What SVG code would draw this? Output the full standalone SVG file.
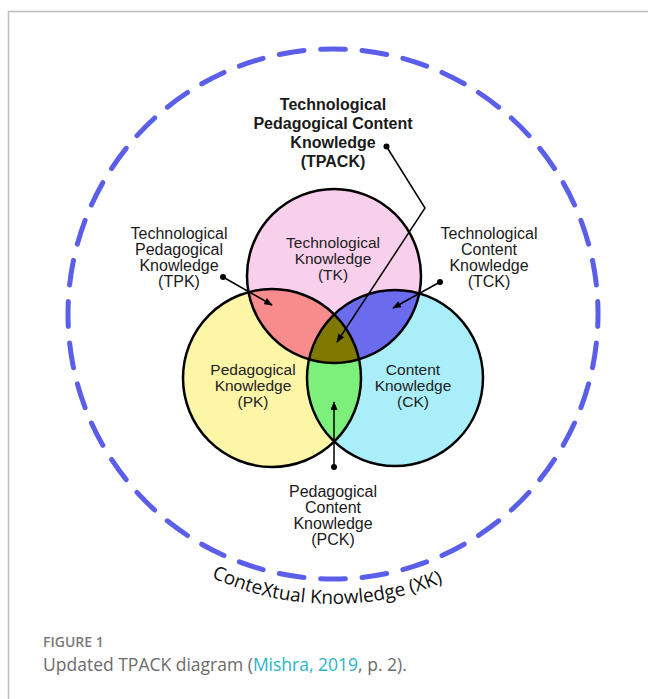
<svg xmlns="http://www.w3.org/2000/svg" width="648" height="699" viewBox="0 0 648 699">
  <style>
    .lbl { font-family: "Liberation Sans", Arial, sans-serif; font-size: 16px; fill: #1a1a1a; text-anchor: middle; }
    .in { font-family: "Liberation Sans", Arial, sans-serif; font-size: 15.5px; fill: #222; text-anchor: middle; }
    .bold { font-weight: bold; }
    .ring { fill: none; stroke: #000; stroke-width: 2.5; }
    .conn { fill: none; stroke: #000; stroke-width: 1.5; }
    .dot { fill: #000; }
    .cap1 { font-family: "Open Sans", "Noto Sans", sans-serif; font-size: 14px; font-weight: 600; fill: #7a7a7a; }
    .cap2 { font-family: "Open Sans", "Noto Sans", sans-serif; font-size: 17.5px; fill: #6b6b6b; }
  </style>
  <defs>
    <circle id="cT" cx="334" cy="276" r="87"/>
    <circle id="cP" cx="272" cy="378" r="89"/>
    <circle id="cC" cx="395" cy="378" r="88"/>
    <clipPath id="clipT"><use href="#cT"/></clipPath>
    <clipPath id="clipP"><use href="#cP"/></clipPath>
    <clipPath id="clipC"><use href="#cC"/></clipPath>
    <marker id="arr" viewBox="0 0 10 8" refX="9" refY="4" markerWidth="9" markerHeight="7" markerUnits="userSpaceOnUse" orient="auto">
      <path d="M0,0 L10,4 L0,8 z" fill="#000"/>
    </marker>
    <path id="xkArc" d="M 43 314 A 290 290 0 0 0 623 314"/>
  </defs>

  <rect width="648" height="699" fill="#fff"/>
  <!-- page frame -->
  <path d="M 8.5 699 L 8.5 11.5 L 648 11.5" fill="none" stroke="#bdbdbd" stroke-width="1.5"/>

  <!-- contextual knowledge ring -->
  <g id="xk">
    <path d="M 333 579 A 265 265 0 0 1 333 49 A 265 265 0 0 1 333 579" fill="none" stroke="#5a5ee8" stroke-width="5" stroke-linecap="round" pathLength="400" stroke-dasharray="6 4" stroke-dashoffset="3"/>
    <text font-family="'Open Sans', 'Noto Sans', sans-serif" font-size="19" fill="#111"><textPath href="#xkArc" startOffset="49.3%" text-anchor="middle">ConteXtual Knowledge (XK)</textPath></text>
  </g>

  <!-- knowledge domains -->
  <g id="pk"><use href="#cP" fill="#fdf6a6"/></g>
  <g id="ck"><use href="#cC" fill="#aaeefa"/></g>
  <g id="tk"><use href="#cT" fill="#f9d0ec"/></g>
  <g id="tpk"><g clip-path="url(#clipP)"><use href="#cT" fill="#f88c8c"/></g></g>
  <g id="tck"><g clip-path="url(#clipC)"><use href="#cT" fill="#6b6bee"/></g></g>
  <g id="pck"><g clip-path="url(#clipC)"><use href="#cP" fill="#7def7b"/></g></g>
  <g id="tpack"><g clip-path="url(#clipC)"><g clip-path="url(#clipP)"><use href="#cT" fill="#7f7800"/></g></g></g>
  <g id="outlines">
    <use href="#cP" class="ring"/>
    <use href="#cC" class="ring"/>
    <use href="#cT" class="ring"/>
  </g>

  <!-- domain names -->
  <g id="tk-text">
    <text class="in" x="333" y="248">Technological</text>
    <text class="in" x="333" y="264">Knowledge</text>
    <text class="in" x="333" y="280">(TK)</text>
  </g>
  <g id="pk-text">
    <text class="in" x="253" y="375">Pedagogical</text>
    <text class="in" x="253" y="391">Knowledge</text>
    <text class="in" x="253" y="407">(PK)</text>
  </g>
  <g id="ck-text">
    <text class="in" x="413" y="375">Content</text>
    <text class="in" x="413" y="391">Knowledge</text>
    <text class="in" x="413" y="407">(CK)</text>
  </g>

  <!-- callout labels -->
  <g id="tpack-label">
    <text class="lbl bold" x="333" y="110">Technological</text>
    <text class="lbl bold" x="333" y="129">Pedagogical Content</text>
    <text class="lbl bold" x="333" y="148">Knowledge</text>
    <text class="lbl bold" x="333" y="167">(TPACK)</text>
  </g>
  <g id="tpk-label">
    <text class="lbl" x="179" y="239">Technological</text>
    <text class="lbl" x="179" y="255">Pedagogical</text>
    <text class="lbl" x="179" y="271">Knowledge</text>
    <text class="lbl" x="179" y="287">(TPK)</text>
  </g>
  <g id="tck-label">
    <text class="lbl" x="489" y="239">Technological</text>
    <text class="lbl" x="489" y="255">Content</text>
    <text class="lbl" x="489" y="271">Knowledge</text>
    <text class="lbl" x="489" y="287">(TCK)</text>
  </g>
  <g id="pck-label">
    <text class="lbl" x="333" y="497">Pedagogical</text>
    <text class="lbl" x="333" y="513">Content</text>
    <text class="lbl" x="333" y="529">Knowledge</text>
    <text class="lbl" x="333" y="545">(PCK)</text>
  </g>

  <!-- connectors -->
  <g id="connectors">
    <polyline class="conn" points="386.5,146.5 425,208 337,342" marker-end="url(#arr)"/>
    <circle class="dot" cx="386.5" cy="146.5" r="3"/>
    <line class="conn" x1="223" y1="277" x2="272" y2="305" marker-end="url(#arr)"/>
    <circle class="dot" cx="223" cy="277" r="3"/>
    <line class="conn" x1="440" y1="282" x2="393" y2="308" marker-end="url(#arr)"/>
    <circle class="dot" cx="440" cy="282" r="3"/>
    <line class="conn" x1="334" y1="467" x2="334" y2="402" marker-end="url(#arr)"/>
    <circle class="dot" cx="334" cy="467" r="3"/>
  </g>

  <!-- caption -->
  <text class="cap1" x="43" y="647">FIGURE 1</text>
  <text class="cap2" x="43" y="671">Updated TPACK diagram (<tspan fill="#2ab4c6">Mishra, 2019</tspan>, p. 2).</text>
</svg>
